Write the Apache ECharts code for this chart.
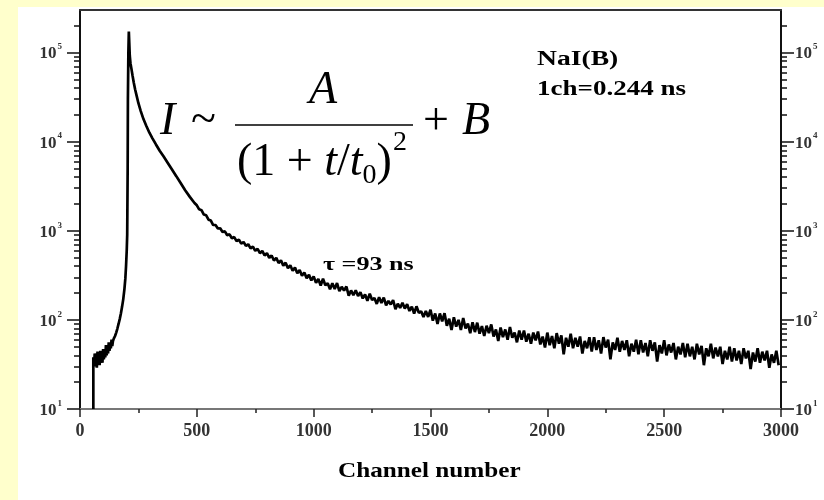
<!DOCTYPE html>
<html>
<head>
<meta charset="utf-8">
<script src="https://cdn.jsdelivr.net/npm/echarts@6/dist/echarts.min.js"></script>
<style>
html,body{margin:0;padding:0;background:#FFFFCC;width:824px;height:500px;overflow:hidden;}
#chart{position:absolute;left:18px;top:7px;width:806px;height:493px;background:#fff;}
</style>
</head>
<body>
<div id="chart"></div>
<script>
// ---- data (channel, counts) ----
const riseSegment = [
  [57,10],[57,38],[60,30],[63,42],[66,33],[69,40],[72,29],[75,44],[78,34],[81,40],
  [84,31],[87,45],[90,35],[93,41],[96,33],[99,47],[102,36],[105,43],[108,38],[111,52],
  [114,40],[117,48],[120,42],[123,56],[126,45],[129,52],[132,48],[135,60],[138,51],[141,58],
  [145,62],[150,66],[155,72],[160,80],[165,90],[170,102],[175,118],[180,140],[185,170],[190,220],
  [194,290],[197,400],[200,600],[202,900],[204,5000],[205,30000],[207,100000],[209,172000]
];
const earlyDecay = [
  [211,125000],[213,92000],[216,76000],[220,66000],[225,55000],[230,46000],[236,38500],[242,33000],
  [250,27000],[260,22000],[272,17800],[284,15000],[297,12600],[310,10900],[325,9300],[341,7900],
  [358,6800],[375,5800],[393,4900],[412,4100],[430,3450],[450,2850],[470,2400],[490,2050]
];
const midDecay = [
  [500,1930],[510,1740],[520,1700],[530,1520],[540,1490],[550,1330],[560,1300],[570,1160],[580,1160],[590,1060],
  [600,1065],[610,970],[620,985],[630,890],[640,912],[650,825],[660,850],[670,765],[680,795],[690,718],
  [700,748],[710,676],[720,706],[730,635],[740,665],[750,596],[760,628],[770,560],[780,593],[790,528],
  [800,560],[810,496],[820,528],[830,464],[840,496],[850,434],[860,466],[870,406],[880,438],[890,380],
  [900,410],[910,356],[920,386],[930,334],[940,362],[950,313],[960,340],[970,294],[980,320],[990,277]
];
const tailChannels = [
  1000,1010,1020,1030,1040,1050,1060,1070,1080,1090,1100,1110,1120,1130,1140,1150,1160,1170,1180,1190,
  1200,1210,1220,1230,1240,1250,1260,1270,1280,1290,1300,1310,1320,1330,1340,1350,1360,1370,1380,1390,
  1400,1410,1420,1430,1440,1450,1460,1470,1480,1490,1500,1510,1520,1530,1540,1550,1560,1570,1580,1590,
  1600,1610,1620,1630,1640,1650,1660,1670,1680,1690,1700,1710,1720,1730,1740,1750,1760,1770,1780,1790,
  1800,1810,1820,1830,1840,1850,1860,1870,1880,1890,1900,1910,1920,1930,1940,1950,1960,1970,1980,1990,
  2000,2010,2020,2030,2040,2050,2060,2070,2080,2090,2100,2110,2120,2130,2140,2150,2160,2170,2180,2190,
  2200,2210,2220,2230,2240,2250,2260,2270,2280,2290,2300,2310,2320,2330,2340,2350,2360,2370,2380,2390,
  2400,2410,2420,2430,2440,2450,2460,2470,2480,2490,2500,2510,2520,2530,2540,2550,2560,2570,2580,2590,
  2600,2610,2620,2630,2640,2650,2660,2670,2680,2690,2700,2710,2720,2730,2740,2750,2760,2770,2780,2790,
  2800,2810,2820,2830,2840,2850,2860,2870,2880,2890,2900,2910,2920,2930,2940,2950,2960,2970,2980,2990
];
const tailCounts = [
  308,260,288,242,289,245,257,220,258,222,259,210,235,213,237,187,214,189,215,185,
  205,174,193,164,197,167,176,151,180,155,178,146,163,149,167,132,152,136,156,134,
  150,126,141,118,142,120,125,108,126,108,130,98,118,90,118,96,119,86,103,77,
  107,84,100,77,105,80,91,71,94,73,93,70,85,66,86,71,89,65,78,58,
  82,64,78,60,83,63,72,56,76,60,76,57,70,54,72,59,74,53,65,49,
  72,52,66,48,71,54,67,41,63,50,70,48,63,50,65,42,58,48,64,44,
  64,46,59,42,64,49,60,36,56,46,63,44,58,46,59,39,54,44,60,41,
  59,43,55,39,59,45,56,34,52,42,59,40,53,43,55,36,50,41,55,38,
  54,39,50,36,54,41,51,31,48,39,54,37,49,39,50,32,45,36,50,34,
  48,35,45,32,48,37,45,28,43,34,48,33,44,35,45,29,41,33,45,31
];
const xTicks = [0, 500, 1000, 1500, 2000, 2500, 3000];
const yDecades = [10, 100, 1000, 10000, 100000];
const yMinorTicks = [20,30,40,50,60,70,80,90,200,300,400,500,600,700,800,900,
  2000,3000,4000,5000,6000,7000,8000,9000,20000,30000,40000,50000,60000,70000,80000,90000,200000];

const tailSegment = tailChannels.map((c, i) => [c, tailCounts[i]]);
const seriesData = riseSegment.concat(earlyDecay, midDecay, tailSegment);

const OX = 18, OY = 7; // chart div offset on the page
const serif = '"Liberation Serif","Times New Roman",serif';

const chart = echarts.init(document.getElementById('chart'), null, {renderer: 'canvas'});

const labelRich = {
  b: {fontFamily: serif, fontWeight: 'bold', fontSize: 17, color: '#333', lineHeight: 20, verticalAlign: 'bottom'},
  s: {fontFamily: serif, fontWeight: 'bold', fontSize: 9, color: '#333', lineHeight: 20, verticalAlign: 'top', padding: [0, 0, 0, 1]}
};
const decadeFmt = v => '{b|10}{s|' + Math.round(Math.log10(v)) + '}';

function yAxisMajor(pos, margin) {
  return {
    type: 'log', logBase: 10, min: 10, max: 300000, position: pos,
    axisLine: {show: true, lineStyle: {color: '#111', width: 2}},
    axisTick: {show: true, inside: false, length: 13, customValues: yDecades, lineStyle: {color: '#111', width: 1.5}},
    axisLabel: {show: true, customValues: yDecades, margin: margin, formatter: decadeFmt, rich: labelRich},
    splitLine: {show: false}, minorTick: {show: false}
  };
}
function yAxisMinor(pos) {
  return {
    type: 'log', logBase: 10, min: 10, max: 300000, position: pos,
    axisLine: {show: false},
    axisTick: {show: true, inside: false, length: 6, customValues: yMinorTicks, lineStyle: {color: '#111', width: 1.5}},
    axisLabel: {show: false},
    splitLine: {show: false}
  };
}

function txt(x, y, text, font, extra) {
  return Object.assign({type: 'text', x: x - OX, y: y - OY,
    style: {text: text, font: font, fill: '#000', align: 'left', verticalAlign: 'middle'}}, extra || {});
}
const F = '46px ' + serif, FI = 'italic 46px ' + serif;

const option = {
  backgroundColor: '#ffffff',
  animation: false,
  grid: {left: 80 - OX, right: 824 - 781, top: 10 - OY, bottom: 500 - 409, containLabel: false},
  xAxis: [
    {
      type: 'value', min: 0, max: 3000, interval: 500, position: 'bottom',
      axisLine: {show: true, onZero: false, lineStyle: {color: '#777', width: 2}},
      axisTick: {show: true, inside: false, length: 8, lineStyle: {color: '#222', width: 1.5}},
      minorTick: {show: true, splitNumber: 2, length: 4, lineStyle: {color: '#222', width: 1.5}},
      axisLabel: {fontFamily: serif, fontWeight: 'bold', fontSize: 18, color: '#333', margin: 13,
        customValues: xTicks, formatter: v => String(v)},
      splitLine: {show: false}
    },
    {
      type: 'value', min: 0, max: 3000, position: 'top',
      axisLine: {show: true, onZero: false, lineStyle: {color: '#333', width: 2}},
      axisTick: {show: false}, axisLabel: {show: false}, splitLine: {show: false}
    }
  ],
  yAxis: [yAxisMajor('left', 18), yAxisMinor('left'), yAxisMajor('right', 14), yAxisMinor('right')],
  series: [{
    type: 'line', xAxisIndex: 0, yAxisIndex: 0,
    data: seriesData, showSymbol: false, symbol: 'none',
    lineStyle: {color: '#000', width: 2.7}, clip: true
  }],
  graphic: [
    txt(537, 60, 'NaI(B)', 'bold 20px ' + serif, {scaleX: 1.38}),
    txt(537, 90, '1ch=0.244 ns', 'bold 20px ' + serif, {scaleX: 1.35}),
    txt(323, 265, 'τ =93 ns', 'bold 18px ' + serif, {scaleX: 1.45}),
    txt(338, 472, 'Channel number', 'bold 21px ' + serif, {scaleX: 1.2}),
    // formula  I ~ A / (1 + t/t0)^2 + B
    txt(160, 122, 'I', FI),
    txt(191, 121, '~', F),
    {type: 'line', shape: {x1: 235 - OX, y1: 125 - OY, x2: 413 - OX, y2: 125 - OY}, style: {stroke: '#000', lineWidth: 1.5}},
    txt(309, 91, 'A', FI),
    {type: 'text', x: 237 - OX, y: 163 - OY, style: {
      text: '{p|(1 + }{i|t}{p|/}{i|t}{sub|0}{p|)}', align: 'left', verticalAlign: 'middle',
      rich: {
        p: {font: F, fill: '#000', lineHeight: 54, verticalAlign: 'middle'},
        i: {font: FI, fill: '#000', lineHeight: 54, verticalAlign: 'middle'},
        sub: {font: '28px ' + serif, fill: '#000', lineHeight: 54, verticalAlign: 'bottom'}
      }
    }},
    txt(393, 143, '2', '28px ' + serif),
    txt(423, 122, '+', F),
    txt(462, 122, 'B', FI)
  ]
};
chart.setOption(option);
</script>
</body>
</html>
